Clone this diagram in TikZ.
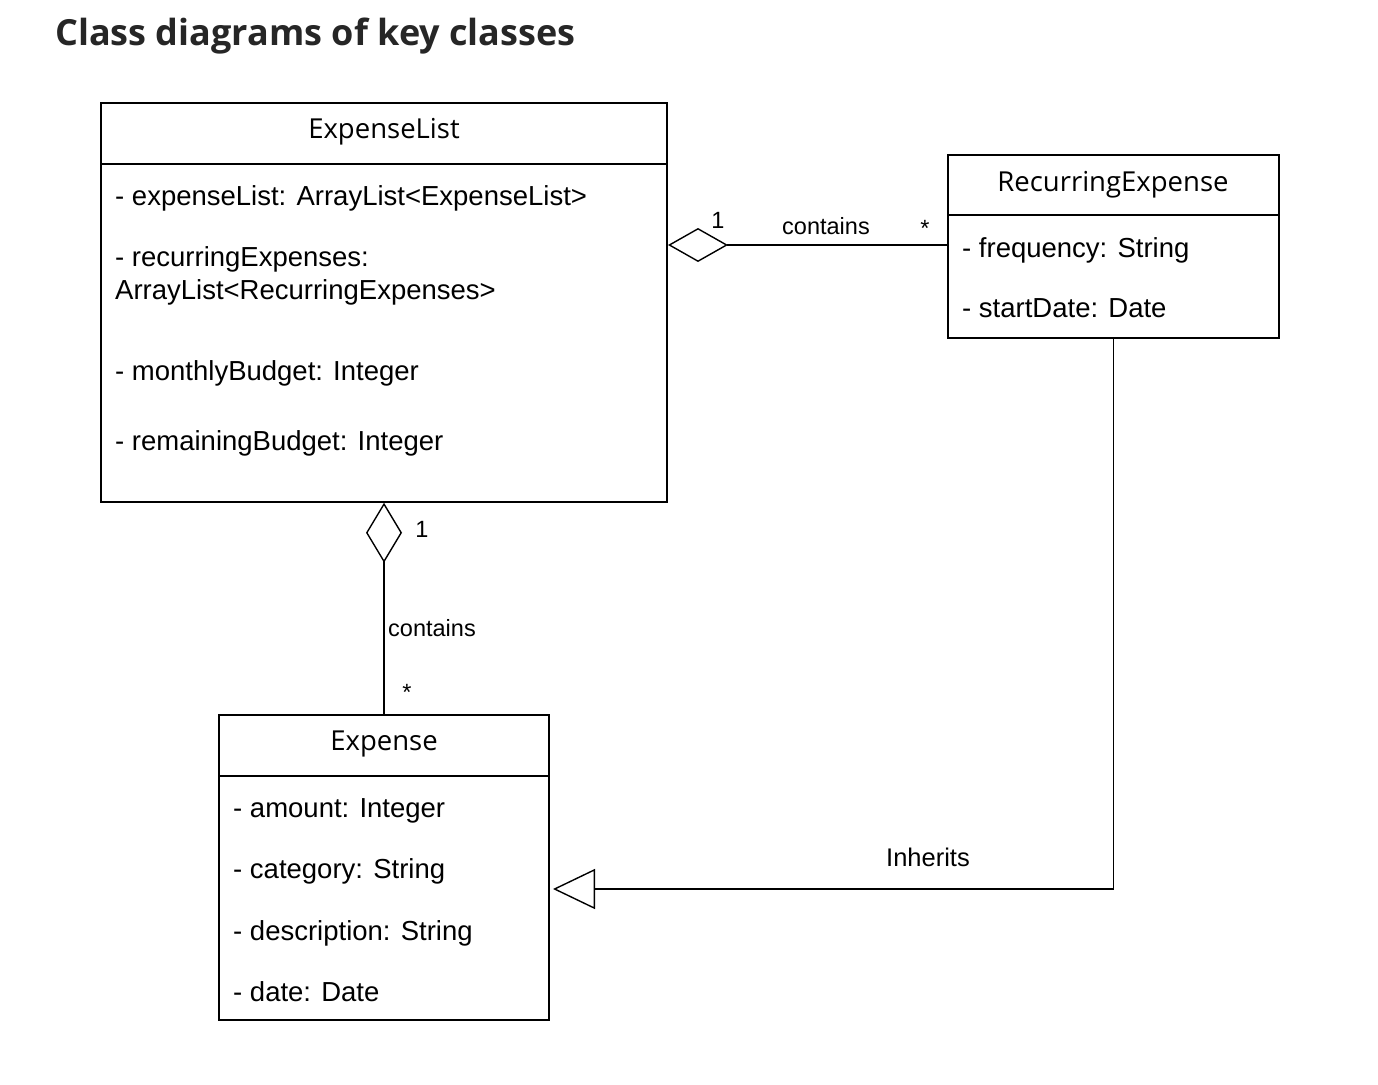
\documentclass[tikz,border=0pt]{standalone}
\usepackage{fontspec}
\setmainfont{Liberation Sans}
\newfontfamily\headfont{Open Sans}
\usetikzlibrary{arrows.meta}

\tikzset{
  classbox/.style={draw, line width=1.5pt, inner sep=0pt},
  cname/.style={font=\headfont\fontsize{27.5}{32}\selectfont},
  attr/.style={anchor=base west, inner sep=0pt, font=\fontsize{27.5}{32}\selectfont},
  lbl/.style={inner sep=0pt, font=\fontsize{23.5}{28}\selectfont},
  assoc/.style={line width=1.4pt},
}

\begin{document}
\begin{tikzpicture}[x=1pt,y=-1pt]
                \useasboundingbox (0,0) rectangle (1378,1084);
                \node[anchor=base west, inner sep=0pt, text=black!85,
                      font=\headfont\bfseries\fontsize{36}{42}\selectfont] (title) at (55,45) {Class diagrams of key classes};

                % ExpenseList
                \node[classbox, minimum width=566pt, minimum height=399pt] (explist) at (384,302.5) {};
                \draw[assoc] (explist.west |- 0,164) -- (explist.east |- 0,164);
                \node[cname] (explistname) at (384,132) {ExpenseList};
                \node[attr] (el1) at (115,205) {- expenseList: ArrayList<ExpenseList>};
                \node[attr] (el2) at (115,266) {- recurringExpenses:};
                \node[attr] (el3) at (115,299) {ArrayList<RecurringExpenses>};
                \node[attr] (el4) at (115,380) {- monthlyBudget: Integer};
                \node[attr] (el5) at (115,450) {- remainingBudget: Integer};

                % RecurringExpense
                \node[classbox, minimum width=331pt, minimum height=183pt] (recexp) at (1113.5,246.5) {};
                \draw[assoc] (recexp.west |- 0,215) -- (recexp.east |- 0,215);
                \node[cname] (recexpname) at (1113,185) {RecurringExpense};
                \node[attr] (re1) at (962,257) {- frequency: String};
                \node[attr] (re2) at (962,317) {- startDate: Date};

                % Expense
                \node[classbox, minimum width=330pt, minimum height=305pt] (expense) at (384,867.5) {};
                \draw[assoc] (expense.west |- 0,776) -- (expense.east |- 0,776);
                \node[cname] (expensename) at (384,744) {Expense};
                \node[attr] (ex1) at (233,817) {- amount: Integer};
                \node[attr] (ex2) at (233,878) {- category: String};
                \node[attr] (ex3) at (233,940) {- description: String};
                \node[attr] (ex4) at (233,1001) {- date: Date};

                % aggregation ExpenseList -- RecurringExpense
                \coordinate (aggright) at (668,245);
                \draw[assoc, {Diamond[open, length=60pt, width=34pt]}-] (aggright) -- (recexp.west |- aggright);
                \node[lbl] (oner) at (718,220) {1};
                \node[lbl] (containsr) at (826,226) {contains};
                \node[lbl] (manyr) at (925,228) {*};

                % aggregation ExpenseList -- Expense
                \draw[assoc, {Diamond[open, length=60pt, width=36pt]}-] (explist.south) -- (expense.north);
                \node[lbl] (oned) at (422,529) {1};
                \node[lbl] (containsd) at (432,628) {contains};
                \node[lbl] (manyd) at (407,692) {*};

                % inheritance
                \coordinate (inhend) at (553,889);
                \draw[assoc, -{Triangle[open, length=42pt, width=40pt]}] (recexp.south) |- (inhend);
                \node[lbl, font=\fontsize{25.5}{30}\selectfont] (inhlbl) at (928,857) {Inherits};
\end{tikzpicture}
\end{document}
